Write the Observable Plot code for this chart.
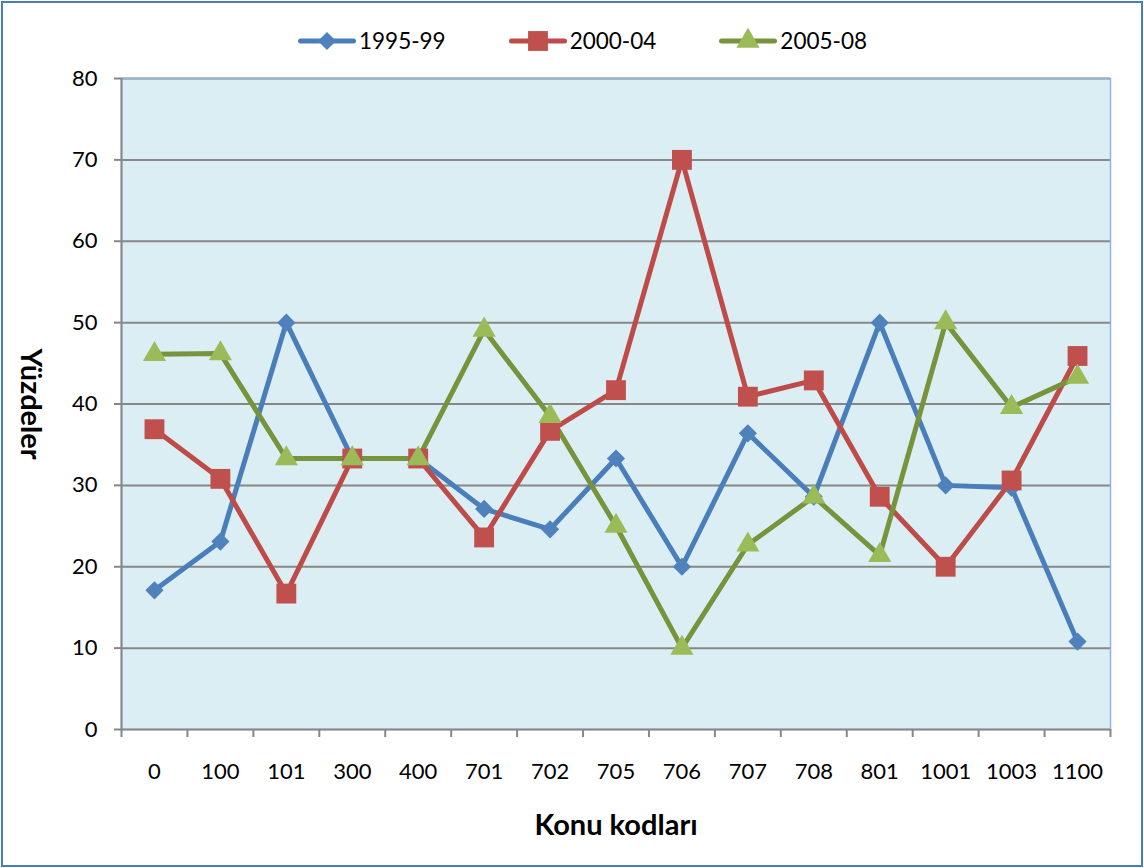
<!DOCTYPE html>
<html>
<head>
<meta charset="utf-8">
<script src="https://cdn.jsdelivr.net/npm/d3@7"></script>
<script src="https://cdn.jsdelivr.net/npm/@observablehq/plot@0.6"></script>
<style>
  html, body { margin: 0; padding: 0; background: #fff; }
  #wrap { position: relative; width: 1144px; height: 868px; font-family: Lato, "Open Sans", sans-serif; }
  #border { position: absolute; left: 1px; top: 1px; width: 1138px; height: 862px; border: 2px solid #4a7ebb; box-sizing: content-box; pointer-events: none; }
  #legend { position: absolute; top: 27px; left: 0; width: 1144px; display: flex; justify-content: flex-start; padding-left: 298px; box-sizing: border-box; }
  .item { display: flex; align-items: center; font-size: 22.5px; color: #000; margin-right: 63px; }
  .item svg { margin-right: 3px; }
  #chart { position: absolute; left: 0; top: 0; }
</style>
</head>
<body>
<div id="wrap">
  <div id="chart"></div>
  <div id="legend"></div>
  <div id="border"></div>
</div>
<script>
const categories = ["0","100","101","300","400","701","702","705","706","707","708","801","1001","1003","1100"];
const seriesNames = ["1995-99","2000-04","2005-08"];
const values1995 = [17.1, 23.1, 50, 33.3, 33.3, 27.1, 24.6, 33.3, 20, 36.4, 28.6, 50, 30, 29.7, 10.8];
const values2000 = [36.9, 30.8, 16.7, 33.3, 33.3, 23.6, 36.7, 41.7, 70, 40.9, 42.9, 28.6, 20, 30.6, 45.9];
const values2005 = [46.1, 46.2, 33.3, 33.3, 33.3, 49.1, 38.5, 25, 10, 22.7, 28.6, 21.4, 50, 39.6, 43.3];
const yTicks = [0, 10, 20, 30, 40, 50, 60, 70, 80];
const lineColors = ["#4a7ebb", "#be4b48", "#77933c"];
const markerColors = ["#4f81bd", "#c0504d", "#9bbb59"];
const symbols = ["diamond2", "square", "triangle"];
const markerR = [8.2, 11.2, 8.6];

const allSeries = [values1995, values2000, values2005];
const rows = [];
allSeries.forEach((vals, s) => vals.forEach((v, i) => rows.push({series: seriesNames[s], s, i, cat: categories[i], value: v})));

const boundaries = d3.range(categories.length + 1).map(k => k - 0.5);

const marks = [
  Plot.frame({fill: "#dbeef4", stroke: null}),
  Plot.ruleY(yTicks.filter(d => d > 0), {stroke: "#878787", strokeWidth: 2}),
  Plot.frame({stroke: "#8db3e2", strokeWidth: 1.5, fill: "none"}),
  Plot.ruleX([-0.5], {stroke: "#878787", strokeWidth: 2}),
  Plot.ruleY([0], {stroke: "#878787", strokeWidth: 2}),
  Plot.axisY({ticks: yTicks, tickSize: 7, tickPadding: 17, stroke: "#878787", strokeWidth: 2, fontSize: 22, label: null, tickFormat: d => String(d)}),
  Plot.axisX({ticks: boundaries, tickSize: 8, tickFormat: () => "", stroke: "#878787", strokeWidth: 2, label: null}),
  Plot.axisX({ticks: d3.range(categories.length), tickSize: 0, tickPadding: 34, fontSize: 22, label: null, tickFormat: i => categories[i]}),
];
seriesNames.forEach((name, s) => {
  const d = rows.filter(r => r.s === s);
  marks.push(Plot.line(d, {x: "i", y: "value", stroke: lineColors[s], strokeWidth: 5}));
});
seriesNames.forEach((name, s) => {
  const d = rows.filter(r => r.s === s);
  marks.push(Plot.dot(d, {x: "i", y: "value", symbol: symbols[s], fill: markerColors[s], stroke: "none", r: markerR[s]}));
});
marks.push(Plot.text(["Konu kodları"], {frameAnchor: "bottom", textAnchor: "middle", dy: 105, fontSize: 29, fontWeight: "bold", fill: "#000"}));
marks.push(Plot.text(["Yüzdeler"], {frameAnchor: "left", textAnchor: "middle", dx: -91, rotate: 90, fontSize: 29, fontWeight: "bold", fill: "#000"}));

const chart = Plot.plot({
  width: 1144,
  height: 868,
  marginLeft: 121,
  marginRight: 34,
  marginTop: 78,
  marginBottom: 139,
  style: {fontFamily: "Lato, 'Open Sans', sans-serif", color: "#000", background: "transparent", overflow: "visible"},
  x: {type: "linear", domain: [-0.5, categories.length - 0.5], axis: null},
  y: {domain: [0, 80], axis: null},
  marks
});
document.getElementById("chart").appendChild(chart);

// Legend
const legend = document.getElementById("legend");
const symMap = {diamond2: d3.symbolDiamond2, square: d3.symbolSquare, triangle: d3.symbolTriangle};
seriesNames.forEach((name, s) => {
  const item = document.createElement("div");
  item.className = "item";
  const svg = d3.create("svg").attr("width", 58).attr("height", 26);
  svg.append("line").attr("x1", 2.5).attr("x2", 55.5).attr("y1", 13).attr("y2", 13)
     .attr("stroke", lineColors[s]).attr("stroke-width", 5).attr("stroke-linecap", "round");
  svg.append("path").attr("transform", "translate(29,13)")
     .attr("d", d3.symbol(symMap[symbols[s]], Math.PI * markerR[s] * markerR[s])())
     .attr("fill", markerColors[s]);
  item.appendChild(svg.node());
  const t = document.createElement("span");
  t.textContent = name;
  item.appendChild(t);
  legend.appendChild(item);
});
</script>
</body>
</html>
